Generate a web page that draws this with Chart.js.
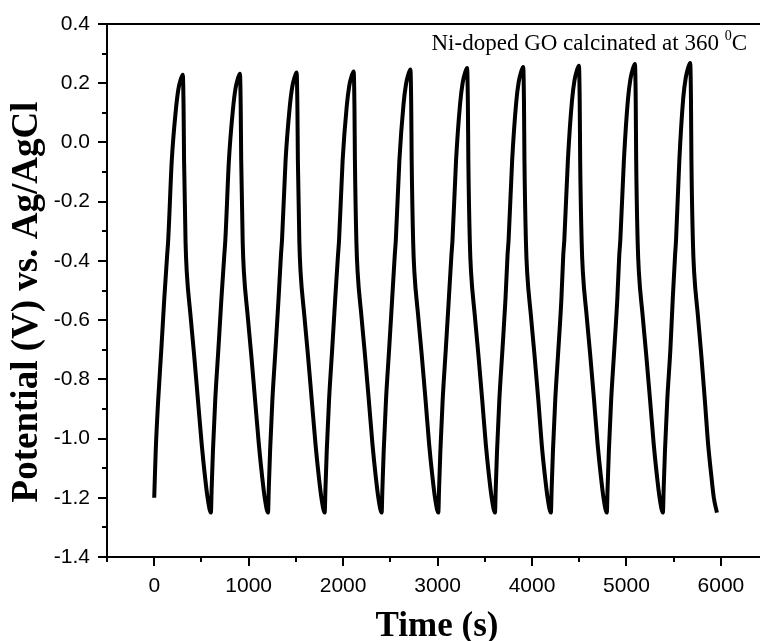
<!DOCTYPE html>
<html>
<head>
<meta charset="utf-8">
<script src="https://cdn.jsdelivr.net/npm/chart.js@4.4.1/dist/chart.umd.min.js"></script>
<style>
  body { margin: 0; background: #fff; }
  #wrap { width: 760px; height: 641px; }
</style>
</head>
<body>
<div id="wrap"><canvas id="gcdChart" width="760" height="641"></canvas></div>
<script>
// time (s) and potential (V), one row per charge/discharge cycle
const timeS = [
    0, 16, 42, 75, 106, 137, 148, 186, 229, 256, 282, 303, 311, 316, 332, 345, 383, 423, 463, 503, 538, 565, 600,
    608, 622, 646, 679, 711, 742, 753, 791, 834, 861, 887, 908, 916, 921, 937, 950, 988, 1028, 1068, 1108, 1143, 1170, 1205,
    1213, 1227, 1251, 1284, 1316, 1342, 1353, 1391, 1434, 1461, 1487, 1508, 1516, 1521, 1537, 1550, 1588, 1628, 1668, 1708, 1743, 1770, 1805,
    1813, 1827, 1851, 1884, 1916, 1946, 1957, 1995, 2038, 2065, 2091, 2112, 2120, 2125, 2141, 2154, 2192, 2232, 2272, 2311, 2346, 2373, 2408,
    2416, 2430, 2454, 2487, 2519, 2547, 2558, 2596, 2639, 2666, 2692, 2713, 2721, 2726, 2742, 2755, 2793, 2833, 2873, 2911, 2946, 2973, 3008,
    3016, 3030, 3054, 3087, 3119, 3147, 3158, 3196, 3239, 3266, 3292, 3313, 3321, 3326, 3342, 3355, 3393, 3433, 3473, 3511, 3546, 3573, 3608,
    3616, 3630, 3654, 3687, 3719, 3741, 3752, 3790, 3833, 3860, 3886, 3907, 3915, 3920, 3936, 3949, 3987, 4027, 4067, 4103, 4138, 4165, 4200,
    4208, 4222, 4246, 4279, 4311, 4331, 4342, 4380, 4423, 4450, 4476, 4497, 4505, 4510, 4526, 4539, 4577, 4617, 4657, 4695, 4730, 4757, 4792,
    4800, 4814, 4838, 4871, 4903, 4924, 4935, 4973, 5016, 5043, 5069, 5090, 5098, 5103, 5119, 5132, 5170, 5210, 5250, 5289, 5324, 5351, 5386,
    5394, 5408, 5432, 5465, 5490, 5515, 5525, 5560, 5601, 5628, 5654, 5675, 5683, 5688, 5704, 5717, 5755, 5793, 5830, 5865, 5900, 5925, 5958
];
const potentialV = [
    -1.20, -1.04, -0.87, -0.70, -0.53, -0.38, -0.33, -0.06, 0.110, 0.180, 0.214, 0.229, 0.110, -0.06, -0.34, -0.44, -0.58, -0.72, -0.87, -1.02, -1.13, -1.20, -1.25,
    -1.17, -1.04, -0.87, -0.70, -0.53, -0.38, -0.33, -0.06, 0.113, 0.183, 0.217, 0.232, 0.113, -0.06, -0.34, -0.44, -0.58, -0.72, -0.87, -1.02, -1.13, -1.20, -1.25,
    -1.17, -1.04, -0.87, -0.70, -0.53, -0.38, -0.33, -0.06, 0.117, 0.187, 0.221, 0.236, 0.117, -0.06, -0.34, -0.44, -0.58, -0.72, -0.87, -1.02, -1.13, -1.20, -1.25,
    -1.17, -1.04, -0.87, -0.70, -0.53, -0.38, -0.33, -0.06, 0.121, 0.191, 0.225, 0.240, 0.121, -0.06, -0.34, -0.44, -0.58, -0.72, -0.87, -1.02, -1.13, -1.20, -1.25,
    -1.17, -1.04, -0.87, -0.70, -0.53, -0.38, -0.33, -0.06, 0.127, 0.197, 0.231, 0.246, 0.127, -0.06, -0.34, -0.44, -0.58, -0.72, -0.87, -1.02, -1.13, -1.20, -1.25,
    -1.17, -1.04, -0.87, -0.70, -0.53, -0.38, -0.33, -0.06, 0.132, 0.202, 0.236, 0.251, 0.132, -0.06, -0.34, -0.44, -0.58, -0.72, -0.87, -1.02, -1.13, -1.20, -1.25,
    -1.17, -1.04, -0.87, -0.70, -0.53, -0.38, -0.33, -0.06, 0.136, 0.206, 0.240, 0.255, 0.136, -0.06, -0.34, -0.44, -0.58, -0.72, -0.87, -1.02, -1.13, -1.20, -1.25,
    -1.17, -1.04, -0.87, -0.70, -0.53, -0.38, -0.33, -0.06, 0.140, 0.210, 0.244, 0.259, 0.140, -0.06, -0.34, -0.44, -0.58, -0.72, -0.87, -1.02, -1.13, -1.20, -1.25,
    -1.17, -1.04, -0.87, -0.70, -0.53, -0.38, -0.33, -0.06, 0.146, 0.216, 0.250, 0.265, 0.146, -0.06, -0.34, -0.44, -0.58, -0.72, -0.87, -1.02, -1.13, -1.20, -1.25,
    -1.17, -1.04, -0.87, -0.70, -0.53, -0.38, -0.33, -0.06, 0.149, 0.219, 0.253, 0.268, 0.149, -0.06, -0.34, -0.44, -0.58, -0.72, -0.87, -1.02, -1.13, -1.20, -1.25
];

// axis ticks
const xMajorTicks = [0, 1000, 2000, 3000, 4000, 5000, 6000];
const xMinorTicks = [-500, 500, 1500, 2500, 3500, 4500, 5500];
const yMajorTicks = [-1.4, -1.2, -1.0, -0.8, -0.6, -0.4, -0.2, 0.0, 0.2, 0.4];
const yMinorTicks = [-1.3, -1.1, -0.9, -0.7, -0.5, -0.3, -0.1, 0.1, 0.3];

const xTitle = "Time (s)";
const yTitle = "Potential (V) vs. Ag/AgCl";
const noteText = "Ni-doped GO calcinated at 360 ";

const points = timeS.map((t, i) => ({ x: t, y: potentialV[i] }));

const serif = "'Liberation Serif', 'Times New Roman', serif";

// tick marks (outside), axis titles and the sample note
const extras = {
    id: "extras",
    afterDraw(chart) {
        const ctx = chart.ctx;
        const xs = chart.scales.x;
        const ys = chart.scales.y;
        const area = chart.chartArea;
        ctx.save();
        ctx.strokeStyle = "#000";
        ctx.lineWidth = 2;
        ctx.beginPath();
        xMajorTicks.forEach((v) => {
            const px = Math.round(xs.getPixelForValue(v));
            ctx.moveTo(px, area.bottom);
            ctx.lineTo(px, area.bottom + 9);
        });
        xMinorTicks.forEach((v) => {
            const px = Math.round(xs.getPixelForValue(v));
            ctx.moveTo(px, area.bottom);
            ctx.lineTo(px, area.bottom + 5);
        });
        yMajorTicks.forEach((v) => {
            const py = Math.round(ys.getPixelForValue(v));
            ctx.moveTo(area.left, py);
            ctx.lineTo(area.left - 9, py);
        });
        yMinorTicks.forEach((v) => {
            const py = Math.round(ys.getPixelForValue(v));
            ctx.moveTo(area.left, py);
            ctx.lineTo(area.left - 5, py);
        });
        ctx.stroke();

        ctx.fillStyle = "#000";

        // axis titles
        ctx.textAlign = "center";
        ctx.textBaseline = "alphabetic";
        ctx.font = "bold 35px " + serif;
        ctx.fillText(xTitle, 437, 636);
        ctx.save();
        ctx.translate(37, 302);
        ctx.rotate(-Math.PI / 2);
        ctx.font = "bold 37px " + serif;
        ctx.fillText(yTitle, 0, 0);
        ctx.restore();

        // sample note, top right
        ctx.textAlign = "left";
        const mainFont = "23px " + serif;
        const supFont = "14px " + serif;
        ctx.font = mainFont;
        const w1 = ctx.measureText(noteText).width;
        const wC = ctx.measureText("C").width;
        ctx.font = supFont;
        const w0 = ctx.measureText("0").width;
        const right = 747;
        const base = 50;
        const x0 = right - wC - w0 - w1;
        ctx.font = mainFont;
        ctx.fillText(noteText, x0, base);
        ctx.font = supFont;
        ctx.fillText("0", x0 + w1, base - 10);
        ctx.font = mainFont;
        ctx.fillText("C", x0 + w1 + w0, base);
        ctx.restore();
    },
};

const ctx = document.getElementById("gcdChart").getContext("2d");
new Chart(ctx, {
    type: "line",
    data: {
        datasets: [
            {
                data: points,
                borderColor: "#000",
                borderWidth: 4,
                pointRadius: 0,
                fill: false,
                cubicInterpolationMode: "monotone",
            },
        ],
    },
    options: {
        responsive: false,
        animation: false,
        layout: { padding: { top: 24, right: 0, bottom: 0, left: 0 } },
        plugins: {
            legend: { display: false },
            tooltip: { enabled: false },
        },
        scales: {
            x: {
                type: "linear",
                position: "bottom",
                min: -500,
                max: 6414,
                afterBuildTicks: (scale) => {
                    scale.ticks = xMajorTicks.map((v) => ({ value: v }));
                },
                afterFit: (scale) => {
                    scale.height = 84;
                },
                grid: { display: false, drawTicks: true, tickLength: 9 },
                border: { display: true, color: "#000", width: 2 },
                ticks: {
                    color: "#000",
                    padding: 8,
                    maxRotation: 0,
                    autoSkip: false,
                    font: { family: "'Liberation Sans', Arial, sans-serif", size: 21 },
                    callback: (v) => String(v),
                },
            },
            xTop: {
                type: "linear",
                position: "top",
                min: -500,
                max: 6414,
                afterFit: (scale) => {
                    scale.height = 0;
                },
                grid: { display: false, drawTicks: false },
                border: { display: true, color: "#000", width: 2 },
                ticks: { display: false },
            },
            y: {
                type: "linear",
                position: "left",
                min: -1.4,
                max: 0.4,
                afterBuildTicks: (scale) => {
                    scale.ticks = yMajorTicks.map((v) => ({ value: v }));
                },
                afterFit: (scale) => {
                    scale.width = 107;
                },
                grid: { display: false, drawTicks: true, tickLength: 9 },
                border: { display: true, color: "#000", width: 2 },
                ticks: {
                    color: "#000",
                    padding: 8,
                    font: { family: "'Liberation Sans', Arial, sans-serif", size: 21 },
                    callback: (v) => Number(v).toFixed(1),
                },
            },
        },
    },
    plugins: [extras],
});
</script>
</body>
</html>
